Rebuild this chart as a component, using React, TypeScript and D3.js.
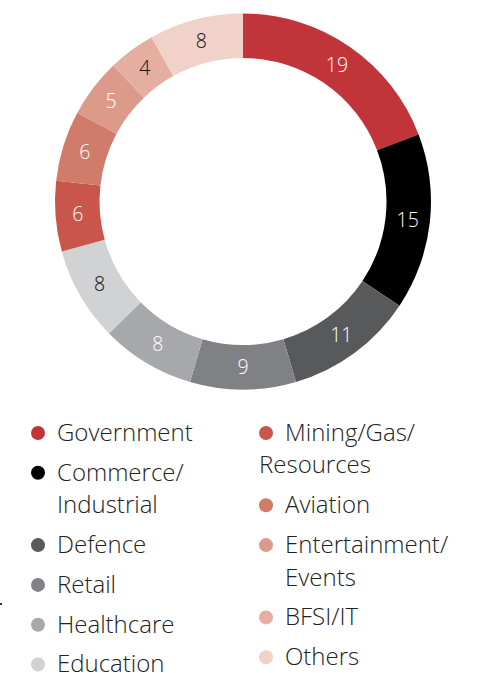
import React, { useEffect } from "react";
import * as d3 from "d3";

const categories = [
  "Government",
  "Commerce/Industrial",
  "Defence",
  "Retail",
  "Healthcare",
  "Education",
  "Mining/Gas/Resources",
  "Aviation",
  "Entertainment/Events",
  "BFSI/IT",
  "Others",
];
const values = [19, 15, 11, 9, 8, 8, 6, 6, 5, 4, 8];
const colors = [
  "#C1353A",
  "#000000",
  "#58595B",
  "#808184",
  "#A7A8AB",
  "#D1D2D4",
  "#C9564A",
  "#D17C6A",
  "#DC9B8A",
  "#E4AFA1",
  "#F0D2C8",
];
const labelColors = [
  "#fff", "#fff", "#fff", "#fff", "#fff", "#111",
  "#fff", "#fff", "#fff", "#111", "#111",
];

// legend layout: lines per item
const legendLeft = [
  { i: 0, lines: ["Government"], indent: true },
  { i: 1, lines: ["Commerce/", "Industrial"], indent: true },
  { i: 2, lines: ["Defence"], indent: true },
  { i: 3, lines: ["Retail"], indent: true },
  { i: 4, lines: ["Healthcare"], indent: true },
  { i: 5, lines: ["Education"], indent: true },
];
const legendRight = [
  { i: 6, lines: ["Mining/Gas/", "Resources"], indent: false },
  { i: 7, lines: ["Aviation"], indent: true },
  { i: 8, lines: ["Entertainment/", "Events"], indent: true },
  { i: 9, lines: ["BFSI/IT"], indent: true },
  { i: 10, lines: ["Others"], indent: true },
];

const W = 484;
const H = 673;
const cx = 243;
const cy = 201.5;
const rOuter = 188;
const rInner = 143.5;
const FONT = "'Open Sans', 'Noto Sans', sans-serif";

function Legend({ items, dotX, textX }: { items: typeof legendLeft; dotX: number; textX: number }) {
  const startY = 432.5;
  const lineGap = 32.5;
  const itemGap = 39.8;
  let y = startY;
  const out: React.ReactNode[] = [];
  items.forEach((it) => {
    out.push(<circle key={"d" + it.i} cx={dotX} cy={y + 0.5} r={7} fill={colors[it.i]} />);
    it.lines.forEach((ln, k) => {
      const x = k === 0 || it.indent ? textX : dotX - 7;
      out.push(
        <text
          key={"t" + it.i + "_" + k}
          x={x}
          y={y + k * lineGap}
          dy="0.35em"
          fontSize={24}
          fill="#222"
          fontFamily={FONT}
          fontWeight={300}
        >
          {ln}
        </text>
      );
    });
    y += (it.lines.length - 1) * lineGap + itemGap;
  });
  return <g>{out}</g>;
}

export default function App() {
  useEffect(() => {
    document.body.style.margin = "0";
  }, []);

  const pie = d3.pie<number>().sort(null).value((d) => d)(values);
  const arc = d3.arc<d3.PieArcDatum<number>>().innerRadius(rInner).outerRadius(rOuter);
  const labelArc = d3
    .arc<d3.PieArcDatum<number>>()
    .innerRadius((rInner + rOuter) / 2)
    .outerRadius((rInner + rOuter) / 2);

  return (
    <svg width={W} height={H} style={{ display: "block" }}>
      <rect width={W} height={H} fill="#fff" />
      <g transform={`translate(${cx},${cy})`}>
        {pie.map((p, i) => (
          <path key={i} d={arc(p) || ""} fill={colors[i]} />
        ))}
        {pie.map((p, i) => {
          const [x, y] = labelArc.centroid(p);
          return (
            <text
              key={"l" + i}
              x={x}
              y={y}
              dy="0.35em"
              textAnchor="middle"
              fontSize={19.5}
              fill={labelColors[i]}
              fontFamily={FONT}
              fontWeight={300}
            >
              {values[i]}
            </text>
          );
        })}
      </g>
      <Legend items={legendLeft} dotX={38} textX={57} />
      <Legend items={legendRight} dotX={266} textX={285} />
      <rect x={0} y={603} width={2} height={2} fill="#333" />
    </svg>
  );
}
